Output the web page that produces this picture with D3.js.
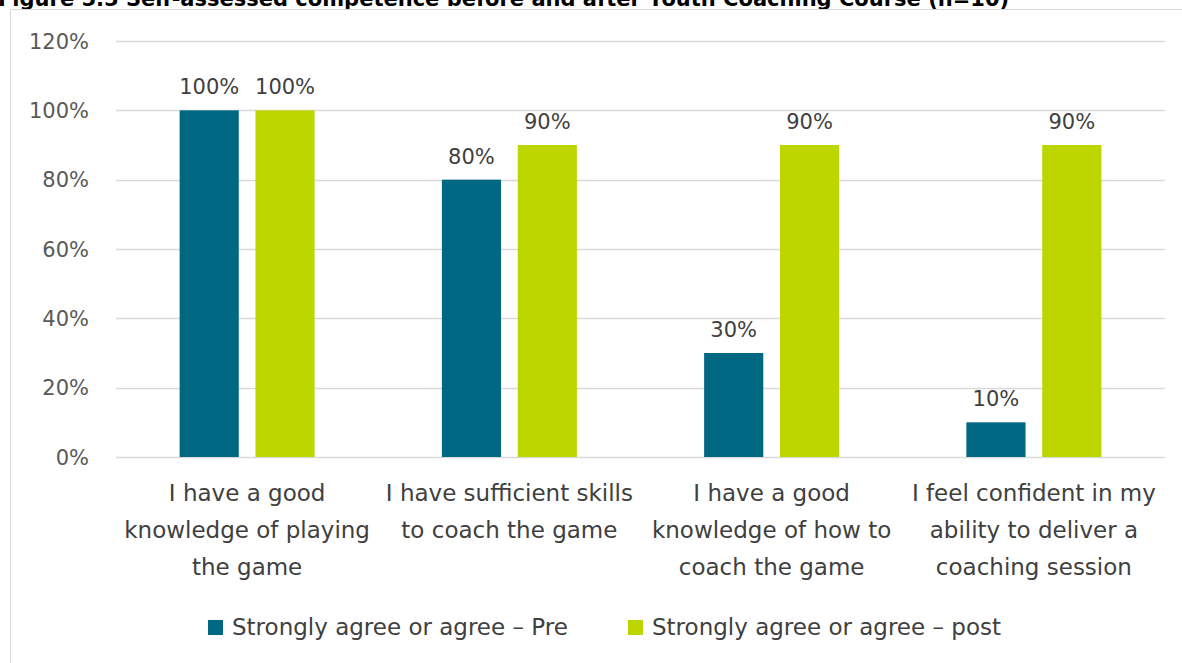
<!DOCTYPE html>
<html lang="en">
<head>
	<meta charset="UTF-8">
	<title>Self-assessed competence</title>
	<style>
		body { margin: 0; background: #fff; }
		svg { display: block; }
	</style>
</head>
<body>
	<svg width=1182 height=663 id="viz"></svg>

	<script src="https://d3js.org/d3.v7.min.js"></script>
	<script>
		// chart data
		const categories = [
			["I have a good", "knowledge of playing", "the game"],
			["I have sufficient skills", "to coach the game"],
			["I have a good", "knowledge of how to", "coach the game"],
			["I feel confident in my", "ability to deliver a", "coaching session"]
		];
		const seriesNames = ["Strongly agree or agree \u2013 Pre", "Strongly agree or agree \u2013 post"];
		const preValues = [1.0, 0.8, 0.3, 0.1];
		const postValues = [1.0, 0.9, 0.9, 0.9];
		const yTicks = [0, 0.2, 0.4, 0.6, 0.8, 1.0, 1.2];
		const colors = ["#006882", "#bed600"];

		const svg = d3.select("#viz");
		const font = "'DejaVu Sans', Verdana, sans-serif";

		// title, clipped at the top like the source
		svg.append("text")
			.attr("x", -2)
			.attr("y", 6)
			.style("font-family", font)
			.style("font-weight", "bold")
			.style("font-size", "21px")
			.style("fill", "#000")
			.text("Figure 5.5 Self\u2011assessed competence before and after Youth Coaching Course (n=10)");

		// chart frame
		svg.append("rect")
			.attr("x", 10.5).attr("y", 9.5)
			.attr("width", 1200).attr("height", 700)
			.style("fill", "none")
			.style("stroke", "#d9d9d9");

		const plotLeft = 116, plotRight = 1165, plotTop = 41, plotBottom = 457;

		const x = d3.scaleBand()
			.domain(d3.range(categories.length))
			.range([plotLeft, plotRight]);

		const xs = d3.scaleBand()
			.domain([0, 1])
			.range([x.bandwidth() / 2 - 67.5, x.bandwidth() / 2 + 67.5])
			.paddingInner(0.22);

		const y = d3.scaleLinear()
			.domain([0, 1.2])
			.range([plotBottom, plotTop]);

		// gridlines
		svg.append("g").selectAll("line")
			.data(yTicks)
			.enter().append("line")
				.attr("x1", plotLeft).attr("x2", plotRight)
				.attr("y1", d => Math.round(y(d)) + 0.5)
				.attr("y2", d => Math.round(y(d)) + 0.5)
				.style("stroke", "#d9d9d9")
				.style("stroke-width", 1.5);

		// y labels
		svg.append("g").selectAll("text")
			.data(yTicks)
			.enter().append("text")
				.attr("x", 89)
				.attr("y", d => y(d))
				.attr("dy", "0.36em")
				.attr("text-anchor", "end")
				.style("font-family", font)
				.style("font-size", "21px")
				.style("fill", "#595959")
				.text(d => d3.format(".0%")(d));

		const rows = categories.map((c, i) => ({ i: i, vals: [preValues[i], postValues[i]] }));

		const groups = svg.append("g").selectAll("g")
			.data(rows)
			.enter().append("g")
				.attr("transform", d => "translate(" + x(d.i) + ",0)");

		groups.selectAll("rect")
			.data(d => d.vals)
			.enter().append("rect")
				.attr("x", (d, j) => xs(j))
				.attr("y", d => y(d))
				.attr("width", xs.bandwidth())
				.attr("height", d => plotBottom - y(d))
				.style("fill", (d, j) => colors[j]);

		groups.selectAll(".label")
			.data(d => d.vals)
			.enter().append("text")
				.attr("class", "label")
				.attr("x", (d, j) => xs(j) + xs.bandwidth() / 2)
				.attr("y", d => y(d) - 16)
				.attr("text-anchor", "middle")
				.style("font-family", font)
				.style("font-size", "21px")
				.style("fill", "#404040")
				.text(d => d3.format(".0%")(d));

		// category labels
		svg.append("g").selectAll("text")
			.data(categories)
			.enter().append("text")
				.attr("text-anchor", "middle")
				.style("font-family", font)
				.style("font-size", "23px")
				.style("fill", "#404040")
				.each(function(lines, i) {
					d3.select(this).selectAll("tspan")
						.data(lines)
						.enter().append("tspan")
							.attr("x", x(i) + x.bandwidth() / 2)
							.attr("y", (l, k) => 493 + k * 37)
							.attr("dy", "0.36em")
							.text(l => l);
				});

		// legend
		const legendX = [208, 628];
		const legend = svg.append("g").selectAll("g")
			.data(seriesNames)
			.enter().append("g")
				.attr("transform", (d, i) => "translate(" + legendX[i] + ",620)");
		legend.append("rect")
			.attr("width", 15).attr("height", 15)
			.style("fill", (d, i) => colors[i]);
		legend.append("text")
			.attr("x", 24).attr("y", 7)
			.attr("dy", "0.36em")
			.style("font-family", font)
			.style("font-size", "23px")
			.style("fill", "#404040")
			.text(d => d);
	</script>
</body>
</html>
